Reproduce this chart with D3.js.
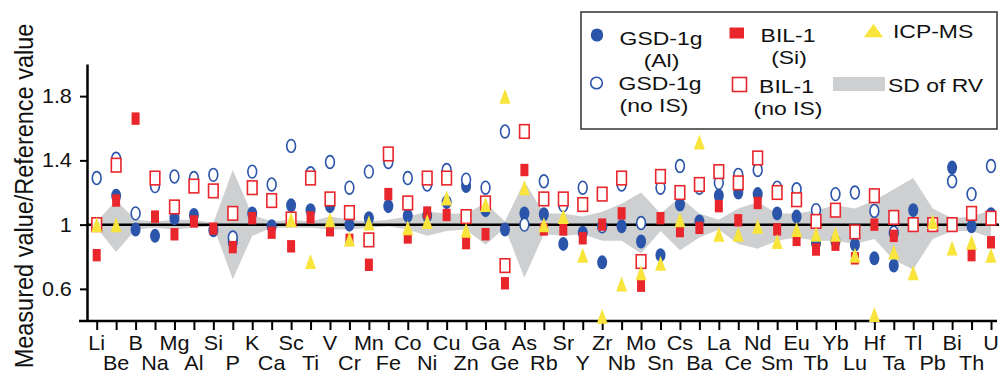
<!DOCTYPE html>
<html>
<head>
<meta charset="utf-8">
<script src="https://cdn.jsdelivr.net/npm/d3@7"></script>
<style>
  body { margin: 0; background: #fff; }
  svg { display: block; }
  text { font-family: "Liberation Sans", Arial, Helvetica, sans-serif; fill: #111; }
</style>
</head>
<body>
<div id="graph"></div>
<script>
var elements = ["Li","Be","B","Na","Mg","Al","Si","P","K","Ca","Sc","Ti","V","Cr","Mn","Fe","Co","Ni","Cu","Zn",
  "Ga","Ge","As","Rb","Sr","Y","Zr","Nb","Mo","Sn","Cs","Ba","La","Ce","Nd","Sm","Eu","Tb","Yb","Lu",
  "Hf","Ta","Tl","Pb","Bi","Th","U"];

// GSD-1g (Al internal standard) - filled circles
var gsdAl = [1.00,1.18,0.97,0.93,1.04,1.06,0.965,0.89,1.07,0.99,1.12,1.09,1.115,1.00,1.04,1.115,1.055,1.055,1.14,1.24,
  1.09,0.97,1.07,1.065,0.88,0.95,0.765,0.99,0.895,0.81,1.125,1.02,1.18,1.20,1.19,1.07,1.05,0.885,0.895,0.875,
  0.79,0.745,1.09,1.00,1.355,0.99,1.065];
// GSD-1g (no IS) - open circles
var gsdNoIS = [1.29,1.41,1.07,1.24,1.30,1.29,1.31,0.92,1.33,1.25,1.49,1.32,1.39,1.23,1.33,1.39,1.29,1.25,1.34,1.28,
  1.23,1.58,1.00,1.27,1.12,1.23,0.99,1.25,1.01,1.23,1.365,1.23,1.26,1.31,1.34,1.23,1.22,1.09,1.19,1.20,
  1.085,0.95,1.00,1.00,1.27,1.19,1.365];
// BIL-1 (Si internal standard) - filled squares
var bilSi = [0.81,1.15,1.66,1.05,0.94,1.02,0.975,0.86,1.04,0.95,0.865,1.045,0.965,0.905,0.75,1.19,0.92,1.075,1.06,0.885,
  0.94,0.635,1.34,0.97,0.97,0.915,1.00,1.07,0.62,1.04,0.96,0.98,1.115,1.027,1.135,0.97,0.905,0.845,0.875,0.79,
  1.00,0.93,1.00,1.00,1.00,0.81,0.89];
// BIL-1 (no IS) - open squares
var bilNoIS = [1.00,1.37,null,1.29,1.11,1.24,1.21,1.07,1.23,1.15,1.035,1.29,1.16,1.075,0.905,1.44,1.135,1.29,1.29,1.05,
  1.135,0.745,1.58,1.16,1.16,1.125,1.19,1.29,0.77,1.30,1.20,1.25,1.33,1.26,1.415,1.20,1.155,1.02,1.09,0.955,
  1.18,1.045,1.00,1.00,1.00,1.07,1.04];
// ICP-MS - triangles
var icpms = [1.00,1.00,null,null,null,null,null,null,null,null,1.03,0.77,1.03,0.91,1.01,null,0.98,1.02,1.165,0.965,
  1.125,1.80,1.23,1.00,1.05,0.81,0.43,0.63,0.70,0.76,1.03,1.515,0.94,0.94,0.99,0.895,0.97,0.94,0.94,0.81,
  0.44,0.83,0.70,1.02,0.855,0.89,0.81];
// SD of reference value (band limits)
var sdHi = [1.02,1.15,1.03,1.02,1.03,1.03,1.01,1.34,1.06,1.02,1.03,1.02,1.05,1.03,1.02,1.03,1.05,1.08,1.07,1.07,
  1.135,1.02,1.27,1.07,1.07,1.05,1.08,1.13,1.20,1.07,1.17,1.07,1.03,1.10,1.14,1.07,1.07,1.09,1.12,1.10,
  1.15,1.22,1.29,1.10,1.04,1.05,1.09];
var sdLo = [0.98,0.83,0.97,0.98,0.97,0.98,0.99,0.66,0.93,0.98,0.98,0.98,0.97,0.97,0.98,0.99,0.97,0.93,0.96,0.97,
  0.875,0.98,0.67,0.94,0.93,0.94,0.90,0.90,0.82,0.96,0.84,0.92,0.97,0.88,0.85,0.90,0.92,0.90,0.90,0.88,
  0.91,0.78,0.72,0.91,0.96,0.96,0.92];
var yTicks = [0.6, 1, 1.4, 1.8];

var blue = "#2b55aa", red = "#e8262b", yellow = "#f8e43a", grey = "#cdcfd1";

var width = 1001, height = 375;
var svg = d3.select("#graph").append("svg")
    .attr("width", width)
    .attr("height", height);

var x = d3.scalePoint().domain(elements).range([96.7, 991]);
var y = d3.scaleLinear().domain([0.4, 2.0]).range([321, 64]);

function pts(vals) {
  return elements.map(function(e, i) { return {e: e, v: vals[i]}; })
    .filter(function(d) { return d.v != null; });
}

// SD band
var band = elements.map(function(e, i) { return {e: e, hi: sdHi[i], lo: sdLo[i]}; });
svg.append("path")
    .datum(band)
    .attr("fill", grey)
    .attr("d", d3.area()
      .x(function(d) { return x(d.e); })
      .y0(function(d) { return y(d.lo); })
      .y1(function(d) { return y(d.hi); }));

// line at 1
svg.append("line")
    .attr("x1", 87).attr("x2", 999)
    .attr("y1", y(1)).attr("y2", y(1))
    .attr("stroke", "#000").attr("stroke-width", 2.5);

// axes
var yAxis = d3.axisLeft(y).tickValues(yTicks).tickSize(7).tickSizeOuter(0).tickPadding(7)
    .tickFormat(d3.format("~g"));
var gy = svg.append("g").attr("transform", "translate(87,0)").call(yAxis);
gy.select(".domain").attr("stroke", "#000").attr("stroke-width", 2.5);
gy.selectAll(".tick line").attr("stroke", "#000").attr("stroke-width", 2);
gy.selectAll(".tick text")
    .attr("font-size", 20)
    .attr("font-family", null)
    .attr("transform", "scale(1.08,1)")
    .attr("fill", "#111");

var xAxis = d3.axisBottom(x).tickSize(9).tickFormat("");
var gx = svg.append("g").attr("transform", "translate(0,321)").call(xAxis);
gx.select(".domain").remove();
gx.selectAll(".tick line").attr("stroke", "#000").attr("stroke-width", 2);
svg.append("line")
    .attr("x1", 79).attr("x2", 997)
    .attr("y1", 321).attr("y2", 321)
    .attr("stroke", "#000").attr("stroke-width", 2.5);

// element labels, two staggered rows
svg.selectAll(".xlab")
    .data(elements)
    .enter().append("text")
    .attr("class", "xlab")
    .attr("transform", function(d, i) {
      return "translate(" + x(d) + "," + (i % 2 ? 370 : 350) + ") scale(1.08,1)";
    })
    .attr("text-anchor", "middle")
    .attr("font-size", 20)
    .text(function(d) { return d; });

// y title
svg.append("text")
    .attr("transform", "translate(33,196) rotate(-90) scale(1,1.1)")
    .attr("text-anchor", "middle")
    .attr("font-size", 23.5)
    .text("Measured value/Reference value");

// markers
svg.append("g").selectAll("ellipse")
    .data(pts(gsdAl))
    .enter().append("ellipse")
    .attr("cx", function(d) { return x(d.e); })
    .attr("cy", function(d) { return y(d.v); })
    .attr("rx", 5).attr("ry", 7)
    .attr("fill", blue);

svg.append("g").selectAll("ellipse")
    .data(pts(gsdNoIS))
    .enter().append("ellipse")
    .attr("cx", function(d) { return x(d.e); })
    .attr("cy", function(d) { return y(d.v); })
    .attr("rx", 4.4).attr("ry", 6.4)
    .attr("fill", "#fff").attr("stroke", blue).attr("stroke-width", 1.6);

svg.append("g").selectAll("rect")
    .data(pts(bilSi))
    .enter().append("rect")
    .attr("x", function(d) { return x(d.e) - 4; })
    .attr("y", function(d) { return y(d.v) - 6.2; })
    .attr("width", 8).attr("height", 12.4)
    .attr("fill", red);

svg.append("g").selectAll("rect")
    .data(pts(bilNoIS))
    .enter().append("rect")
    .attr("x", function(d) { return x(d.e) - 4.8; })
    .attr("y", function(d) { return y(d.v) - 6.8; })
    .attr("width", 9.6).attr("height", 13.6)
    .attr("fill", "#fff").attr("stroke", red).attr("stroke-width", 1.6);

function tri(cx, cy, w, h) {
  return "M" + cx + "," + (cy - h / 2) + "L" + (cx + w / 2) + "," + (cy + h / 2) +
    "L" + (cx - w / 2) + "," + (cy + h / 2) + "Z";
}
svg.append("g").selectAll("path")
    .data(pts(icpms))
    .enter().append("path")
    .attr("d", function(d) { return tri(x(d.e), y(d.v), 11, 15); })
    .attr("fill", yellow);

// legend
var lg = svg.append("g");
lg.append("rect")
    .attr("x", 581).attr("y", 12).attr("width", 416).attr("height", 117)
    .attr("fill", "#fff").attr("stroke", "#333").attr("stroke-width", 1.5);
lg.append("ellipse").attr("cx", 597).attr("cy", 35).attr("rx", 6.2).attr("ry", 6.6).attr("fill", blue);
lg.append("ellipse").attr("cx", 596.5).attr("cy", 83).attr("rx", 5.8).attr("ry", 5.8)
    .attr("fill", "#fff").attr("stroke", blue).attr("stroke-width", 1.6);
lg.append("rect").attr("x", 729.5).attr("y", 27.5).attr("width", 14.5).attr("height", 11).attr("fill", red);
lg.append("rect").attr("x", 732.5).attr("y", 77.5).attr("width", 14).attr("height", 14)
    .attr("fill", "#fff").attr("stroke", red).attr("stroke-width", 1.6);
lg.append("path").attr("d", tri(873.5, 30.5, 19, 13.5)).attr("fill", yellow);
lg.append("rect").attr("x", 833).attr("y", 77).attr("width", 52).attr("height", 14).attr("fill", grey);

var legendText = [
  ["GSD-1g", 661, 45, "middle"], ["(Al)", 661.5, 67, "middle"],
  ["GSD-1g", 660, 90, "middle"], ["(no IS)", 654, 112, "middle"],
  ["BIL-1", 788, 41.5, "middle"], ["(Si)", 789, 64, "middle"],
  ["BIL-1", 786.5, 93, "middle"], ["(no IS)", 788, 114.5, "middle"],
  ["ICP-MS", 893, 38, "start"], ["SD of RV", 888, 92, "start"]
];
lg.selectAll("text")
    .data(legendText)
    .enter().append("text")
    .attr("transform", function(d) { return "translate(" + d[1] + "," + d[2] + ") scale(1.24,1)"; })
    .attr("text-anchor", function(d) { return d[3]; })
    .attr("font-size", 18.5)
    .text(function(d) { return d[0]; });
</script>
</body>
</html>
